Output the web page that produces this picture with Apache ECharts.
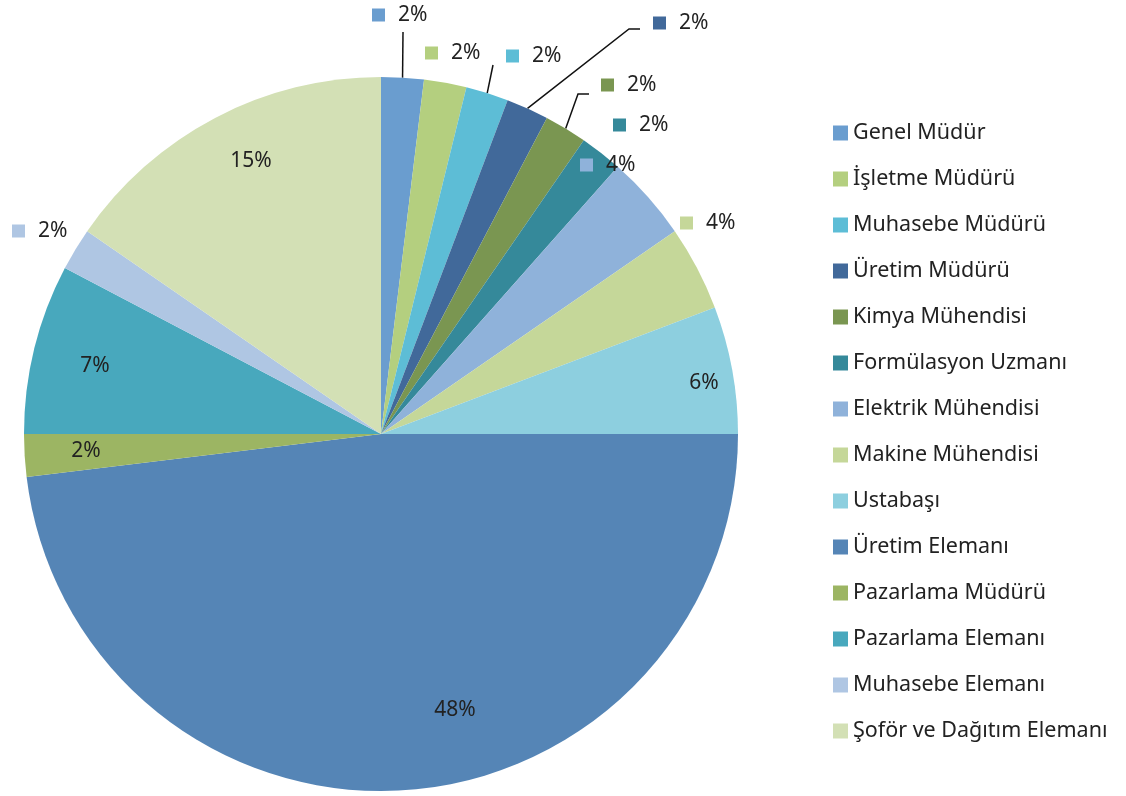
<!DOCTYPE html>
<html style="height: 100%">
<head>
    <meta charset="UTF-8" />
    <title>Pie</title>
    <script src="https://cdn.jsdelivr.net/npm/echarts@6/dist/echarts.min.js"></script>
    <style>
        html, body { margin: 0; padding: 0; background: #fff; }
    </style>
</head>
<body>
    <div id="main" style="width:1126px;height:796px;"></div>
    <script>
        // veriler (dilim açılarından okunan kişi sayıları, etiketler resimdeki yüzdeler)
        var categories = ['Genel Müdür', 'İşletme Müdürü', 'Muhasebe Müdürü', 'Üretim Müdürü',
            'Kimya Mühendisi', 'Formülasyon Uzmanı', 'Elektrik Mühendisi', 'Makine Mühendisi',
            'Ustabaşı', 'Üretim Elemanı', 'Pazarlama Müdürü', 'Pazarlama Elemanı',
            'Muhasebe Elemanı', 'Şoför ve Dağıtım Elemanı'];
        var counts = [1, 1, 1, 1, 1, 1, 2, 2, 3, 25, 1, 4, 1, 8];
        var percentLabels = ['2%', '2%', '2%', '2%', '2%', '2%', '4%', '4%', '6%', '48%', '2%', '7%', '2%', '15%'];
        var colors = ['#6a9dcf', '#b4cf7f', '#5dbdd6', '#41699a', '#7a9651', '#35899a', '#8fb2da',
            '#c5d799', '#8dcfdf', '#5585b6', '#9cb563', '#48a8bd', '#afc6e3', '#d3e0b5'];

        var CX = 381, CY = 434, R = 357;
        /* etiket yerleri: dışarıdakiler kare sol kenarı, içeridekiler metin ortası */
        var outside = [0, 1, 2, 3, 4, 5, 6, 7, 12];
        var place = {
            0: [372, 15], 1: [425, 53], 2: [506, 56], 3: [653, 23], 4: [601, 85],
            5: [613, 125], 6: [580, 165], 7: [680, 223], 12: [12, 231],
            8: [704, 383], 9: [455, 710], 10: [86, 451], 11: [95, 366], 13: [251, 161]
        };
        var leader = {
            0: [[403, 32], [403, 32]],
            2: [[493, 65], [493, 65]],
            3: [[629, 29], [640, 29]],
            4: [[578, 94], [589, 94]]
        };
        var total = counts.reduce(function (a, b) { return a + b; }, 0);
        function arcPoint(i) {
            var before = 0;
            for (var k = 0; k < i; k++) before += counts[k];
            var a = (before + counts[i] / 2) / total * 2 * Math.PI;
            return [CX + R * Math.sin(a), CY - R * Math.cos(a)];
        }

        var data = categories.map(function (name, i) {
            var out = outside.indexOf(i) >= 0;
            return {
                name: name,
                value: counts[i],
                itemStyle: {color: colors[i]},
                label: {
                    position: out ? 'outside' : 'inside',
                    rich: {
                        sq: {width: 13, height: 13, backgroundColor: colors[i]},
                        t: {padding: [0, 0, 0, 13], fontSize: 21, color: '#222', fontFamily: 'Noto Sans'}
                    }
                },
                labelLine: {show: !!leader[i], length: 10, length2: 0, lineStyle: {color: '#111', width: 1.5}}
            };
        });

        var app = echarts.init(document.getElementById('main'));
        var option = {
            animation: false,
            legend: {
                orient: 'vertical',
                left: 833,
                top: 120,
                padding: 0,
                icon: 'rect',
                itemWidth: 15,
                itemHeight: 15,
                itemGap: 20,
                selectedMode: false,
                textStyle: {fontSize: 21.5, color: '#222', fontFamily: 'Noto Sans', lineHeight: 26},
                data: categories
            },
            series: [{
                type: 'pie',
                center: [CX, CY],
                radius: R,
                startAngle: 90,
                clockwise: true,
                avoidLabelOverlap: false,
                itemStyle: {borderWidth: 0},
                label: {
                    fontSize: 21,
                    color: '#222',
                    fontFamily: 'Noto Sans',
                    formatter: function (p) {
                        if (outside.indexOf(p.dataIndex) >= 0) {
                            return '{sq| }{t|' + percentLabels[p.dataIndex] + '}';
                        }
                        return percentLabels[p.dataIndex];
                    }
                },
                labelLayout: function (p) {
                    var i = p.dataIndex;
                    var out = outside.indexOf(i) >= 0;
                    var res = {
                        x: place[i][0],
                        y: place[i][1],
                        align: out ? 'left' : 'center',
                        verticalAlign: 'middle'
                    };
                    if (leader[i]) {
                        res.labelLinePoints = [arcPoint(i)].concat(leader[i]);
                    }
                    return res;
                },
                data: data
            }]
        };
        app.setOption(option);
    </script>
</body>
</html>
